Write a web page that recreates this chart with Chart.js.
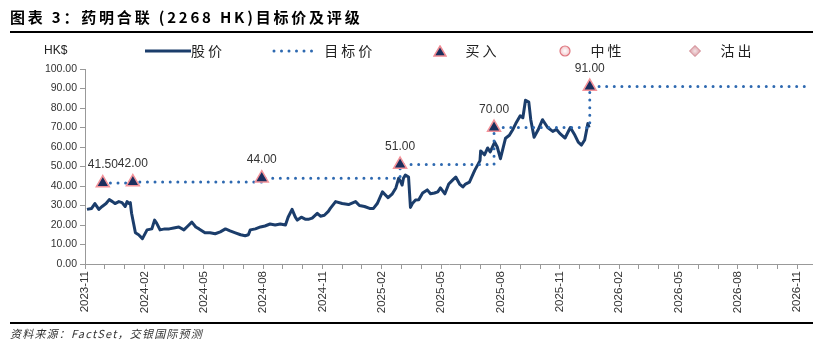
<!DOCTYPE html>
<html>
<head>
<meta charset="utf-8">
<script src="https://cdn.jsdelivr.net/npm/chart.js@4.4.1/dist/chart.umd.min.js"></script>
<style>
  html, body { margin: 0; padding: 0; background: #fff; }
  #wrap { position: relative; width: 813px; height: 350px; overflow: hidden; }
  #chart { position: absolute; left: 0; top: 0; }
  .abs { position: absolute; white-space: nowrap; }
  #title { left: 10px; top: 6px; font: bold 15px "Noto Sans CJK SC", sans-serif; letter-spacing: 2.8px; color: #000; }
  .rule { position: absolute; left: 10px; width: 803px; height: 2px; background: #000; }
  #footer { left: 10px; top: 325px; font: italic 11px "Noto Sans CJK SC", sans-serif; letter-spacing: 1.2px; color: #333; }
  .leg { top: 40px; font: 14px "Noto Sans CJK SC", sans-serif; color: #222; letter-spacing: 3px; }
  #hk { left: 44px; top: 43px; font: 12px "Liberation Sans", Arial, sans-serif; color: #222; }
</style>
</head>
<body>
<div id="wrap">
  <canvas id="chart" width="813" height="350"></canvas>
  <div id="title" class="abs">图表 3：药明合联 (2268 HK)目标价及评级</div>
  <div class="rule" style="top:31px"></div>
  <div id="hk" class="abs">HK$</div>
  <div class="abs leg" style="left:145px"><svg width="46" height="12" style="vertical-align:-1px"><line x1="0" y1="6" x2="46" y2="6" stroke="#1B3D6B" stroke-width="3"/></svg>股价</div>
  <div class="abs leg" style="left:272px"><svg width="46" height="12" style="vertical-align:-1px"><line x1="2" y1="6" x2="44" y2="6" stroke="#2E69B0" stroke-width="3" stroke-linecap="round" stroke-dasharray="0 7.5"/></svg> 目标价</div>
  <div class="abs leg" style="left:433px"><svg width="14" height="12" style="vertical-align:-1px"><polygon points="7,1 13,11 1,11" fill="#1B2F5E" stroke="#F08A92" stroke-width="1.5"/></svg>&nbsp;&nbsp;&nbsp;买入</div>
  <div class="abs leg" style="left:558px"><svg width="14" height="14" style="vertical-align:-2px"><defs><radialGradient id="g1"><stop offset="0" stop-color="#fff"/><stop offset="1" stop-color="#F2C8CC"/></radialGradient></defs><circle cx="7" cy="7" r="5" fill="url(#g1)" stroke="#E07880" stroke-width="1.2"/></svg>&nbsp;&nbsp;&nbsp;中性</div>
  <div class="abs leg" style="left:688px"><svg width="14" height="14" style="vertical-align:-2px"><defs><radialGradient id="g2"><stop offset="0" stop-color="#F4E4E6"/><stop offset="1" stop-color="#D99AA2"/></radialGradient></defs><polygon points="7,1.5 12.5,7 7,12.5 1.5,7" fill="url(#g2)" stroke="#D08890" stroke-width="1"/></svg>&nbsp;&nbsp;&nbsp;沽出</div>
  <div class="rule" style="top:322px"></div>
  <div id="footer" class="abs">资料来源：FactSet，交银国际预测</div>
</div>
<script>
// share price (HK$)
const priceDates = [
  '2023-11-04','2023-11-11','2023-11-16','2023-11-22','2023-11-27','2023-12-03','2023-12-08','2023-12-13',
  '2023-12-17','2023-12-23','2023-12-28','2024-01-02','2024-01-05','2024-01-08','2024-01-10','2024-01-12',
  '2024-01-15','2024-01-18','2024-01-23','2024-01-29','2024-02-05','2024-02-12','2024-02-16','2024-02-19',
  '2024-02-24','2024-03-02','2024-03-09','2024-03-16','2024-03-24','2024-04-01','2024-04-07','2024-04-13',
  '2024-04-19','2024-04-24','2024-05-03','2024-05-11','2024-05-19','2024-05-27','2024-06-04','2024-06-11',
  '2024-06-19','2024-06-27','2024-07-04','2024-07-09','2024-07-12','2024-07-20','2024-07-28','2024-08-04',
  '2024-08-12','2024-08-20','2024-08-28','2024-09-05','2024-09-09','2024-09-15','2024-09-20','2024-09-23',
  '2024-09-29','2024-10-05','2024-10-11','2024-10-16','2024-10-24','2024-10-29','2024-11-04','2024-11-10',
  '2024-11-13','2024-11-21','2024-12-01','2024-12-11','2024-12-22','2024-12-28','2025-01-05','2025-01-13',
  '2025-01-19','2025-01-25','2025-02-02','2025-02-10','2025-02-16','2025-02-21','2025-02-25','2025-02-28',
  '2025-03-02','2025-03-04','2025-03-07','2025-03-12','2025-03-15','2025-03-18','2025-03-23','2025-03-28',
  '2025-04-03','2025-04-10','2025-04-15','2025-04-21','2025-04-26','2025-04-30','2025-05-07','2025-05-13',
  '2025-05-19','2025-05-24','2025-05-30','2025-06-04','2025-06-08','2025-06-14','2025-06-22','2025-06-30',
  '2025-07-01','2025-07-07','2025-07-12','2025-07-16','2025-07-23','2025-07-27','2025-08-01','2025-08-09',
  '2025-08-15','2025-08-20','2025-08-25','2025-09-01','2025-09-05','2025-09-09','2025-09-14','2025-09-17',
  '2025-09-22','2025-09-28','2025-10-05','2025-10-13','2025-10-21','2025-10-27','2025-11-01','2025-11-09',
  '2025-11-17','2025-11-24','2025-11-29','2025-12-04','2025-12-09','2025-12-14','2025-12-16'
];
const priceValues = [
  28, 28.5, 31, 28, 29.5, 31, 33, 32,
  31, 32, 31.5, 29.5, 32, 31, 31.5, 26,
  21, 16, 15, 13, 17.5, 18, 22.5, 21,
  17.5, 18, 18, 18.5, 19, 17.5, 19.5, 21.5,
  19, 18, 16, 16, 15.5, 16.5, 18, 17,
  16, 15, 14.5, 15, 17.5, 18, 19, 19.5,
  20.5, 20, 20.5, 20, 24, 28, 24, 22.5,
  24, 23, 23, 23.5, 26, 24.5, 25, 27,
  28.5, 32, 31, 30.5, 32, 30, 29.5, 28.5,
  28.5, 31, 37, 34, 36, 39, 44, 42,
  40.5, 44, 45.6, 44.6, 29, 31, 32.8, 33,
  36.4, 38, 36, 36.4, 37, 39, 36, 41,
  43, 44.6, 41, 39.5, 41, 42, 48, 53,
  58, 56, 59.5, 57.5, 62.5, 60, 54, 64.5,
  66, 68.7, 72, 76, 75, 84, 83, 74,
  65, 68.7, 74, 70, 68, 69, 67, 64.6,
  70, 66, 62.5, 61, 63.6, 72, 70
];

// rating history: all buy calls with target prices
const buyDates = ['2023-11-28', '2024-01-14', '2024-07-30', '2025-02-27', '2025-07-22', '2025-12-17'];
const buyTargets = [41.5, 42, 44, 51, 70, 91];
const neutralDates = [];
const sellDates = [];
const targetEndDate = '2026-11-15';

// x axis: months counted from 2023-11
const axisMonths = 36.8;

function monthPos(s) {
  const [y, m, d] = s.split('-').map(Number);
  const days = new Date(y, m, 0).getDate();
  return (y - 2023) * 12 + (m - 11) + (d - 1) / days;
}

function monthLabel(i) {
  const y = 2023 + Math.floor((10 + i) / 12);
  const m = (10 + i) % 12 + 1;
  return y + '-' + String(m).padStart(2, '0');
}

const priceData = priceDates.map((d, i) => ({ x: monthPos(d), y: priceValues[i] }));
const buyData = buyDates.map((d, i) => ({ x: monthPos(d), y: buyTargets[i] }));
const targetData = buyData.concat([{ x: monthPos(targetEndDate), y: buyTargets[buyTargets.length - 1] }]);

// write target price above each rating marker
const targetLabels = {
  id: 'targetLabels',
  afterDatasetsDraw(chart) {
    const ctx = chart.ctx;
    const meta = chart.getDatasetMeta(0);
    ctx.save();
    ctx.font = '12px "Liberation Sans", Arial, sans-serif';
    ctx.fillStyle = '#333';
    ctx.textAlign = 'center';
    ctx.textBaseline = 'alphabetic';
    meta.data.forEach((pt, i) => {
      ctx.fillText(buyTargets[i].toFixed(2), pt.x, pt.y - 15);
    });
    ctx.restore();
  }
};

new Chart(document.getElementById('chart'), {
  type: 'line',
  data: {
    datasets: [
      {
        label: '买入',
        type: 'scatter',
        data: buyData,
        pointStyle: 'triangle',
        pointRadius: 7.5,
        pointBackgroundColor: '#1B2F5E',
        pointBorderColor: '#F4939A',
        pointBorderWidth: 1.5,
        order: 0
      },
      {
        label: '目标价',
        data: targetData,
        stepped: 'before',
        borderColor: '#2E69B0',
        borderWidth: 3,
        borderDash: [0, 7.6],
        borderCapStyle: 'round',
        pointRadius: 0,
        fill: false,
        order: 1
      },
      {
        label: '股价',
        data: priceData,
        borderColor: '#1B3D6B',
        borderWidth: 3,
        borderJoinStyle: 'round',
        pointRadius: 0,
        tension: 0,
        fill: false,
        order: 2
      },
      { label: '中性', type: 'scatter', data: neutralDates.map(monthPos), pointStyle: 'circle' },
      { label: '沽出', type: 'scatter', data: sellDates.map(monthPos), pointStyle: 'rectRot' }
    ]
  },
  options: {
    responsive: false,
    animation: false,
    layout: { autoPadding: false, padding: { top: 69, right: 0, bottom: 0, left: 0 } },
    plugins: { legend: { display: false }, tooltip: { enabled: false } },
    scales: {
      x: {
        type: 'linear',
        min: 0,
        max: axisMonths,
        afterFit: s => { s.height = 86; s.paddingLeft = 0; s.paddingRight = 0; },
        border: { color: '#999' },
        grid: { drawOnChartArea: false, tickLength: 5, color: '#999' },
        ticks: {
          stepSize: 1,
          autoSkip: false,
          minRotation: 90,
          maxRotation: 90,
          padding: 2,
          color: '#333',
          font: { family: 'Liberation Sans', size: 11.5 },
          callback: v => (Number.isInteger(v) && v % 3 === 0) ? monthLabel(v) : ''
        }
      },
      y: {
        min: 0,
        max: 100,
        afterFit: s => { s.width = 85; },
        border: { color: '#999' },
        grid: { drawOnChartArea: false, tickLength: 5, color: '#999' },
        ticks: {
          stepSize: 10,
          padding: 3,
          color: '#333',
          font: { family: 'Liberation Sans', size: 10.5 },
          callback: v => v.toFixed(2)
        }
      }
    }
  },
  plugins: [targetLabels]
});
</script>
</body>
</html>
